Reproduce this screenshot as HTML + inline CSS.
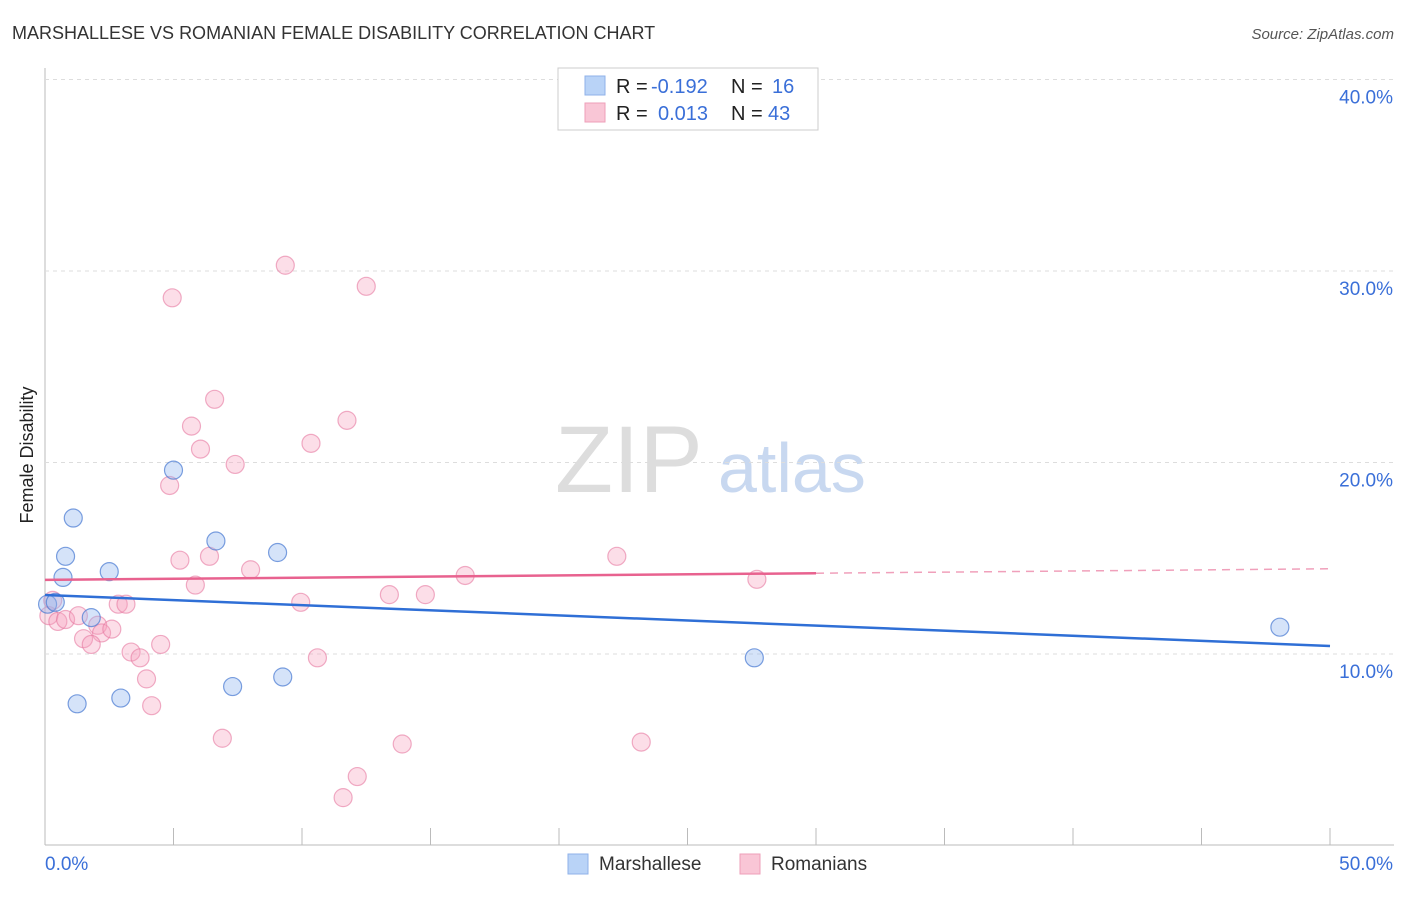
<!DOCTYPE html>
<html><head><meta charset="utf-8"><style>
body{margin:0;background:#fff;font-family:"Liberation Sans",sans-serif}
svg text{font-family:"Liberation Sans",sans-serif}
</style></head><body>
<svg id="c" width="1406" height="892">
<text x="12" y="39" font-size="18" fill="#333">MARSHALLESE VS ROMANIAN FEMALE DISABILITY CORRELATION CHART</text>
<text x="1394" y="39" font-size="15" fill="#555" text-anchor="end" font-style="italic">Source: ZipAtlas.com</text>
<text x="33" y="455" font-size="18" fill="#222" transform="rotate(-90 33 455)" text-anchor="middle">Female Disability</text>
<text x="555" y="492" font-size="95" fill="#ddd" font-family="Liberation Serif">ZIP</text>
<text x="718" y="492" font-size="70" fill="#c8d8f0">atlas</text>
<g id="grid"></g><g id="marks"></g>
<g font-size="20">
<rect x="558" y="68" width="260" height="62" fill="#fff" stroke="#ccc"/>
<rect x="585" y="76" width="20" height="19" fill="#b9d3f7" stroke="#8fb2e8"/>
<rect x="585" y="103" width="20" height="19" fill="#f9c6d6" stroke="#ee9fb8"/>
<text x="616" y="93" fill="#222">R =</text><text x="651" y="93" fill="#3a6fd8">-0.192</text>
<text x="731" y="93" fill="#222">N =</text><text x="772" y="93" fill="#3a6fd8">16</text>
<text x="616" y="120" fill="#222">R =</text><text x="658" y="120" fill="#3a6fd8">0.013</text>
<text x="731" y="120" fill="#222">N =</text><text x="768" y="120" fill="#3a6fd8">43</text>
</g>
<g>
<rect x="568" y="854" width="20" height="20" fill="#b9d3f7" stroke="#8fb2e8"/>
<text x="599" y="870" font-size="19" fill="#333">Marshallese</text>
<rect x="740" y="854" width="20" height="20" fill="#f9c6d6" stroke="#ee9fb8"/>
<text x="771" y="870" font-size="19" fill="#333">Romanians</text>
</g>
</svg>
<script>
const yTicks=[10,20,30,40];
const xTickLabels=["0.0%","50.0%"];
const blueX=[1.1,0.8,0.7,2.5,0.1,0.4,1.8,5.0,6.65,9.05,1.25,2.95,7.3,9.25,27.6,48.05];
const blueY=[17.1,15.1,14.0,14.3,12.6,12.7,11.9,19.6,15.9,15.3,7.4,7.7,8.3,8.8,9.8,11.4];
const pinkX=[9.35,4.95,12.5,6.6,11.75,5.7,10.35,6.05,7.4,4.85,5.25,6.4,8.0,22.25,5.85,16.35,27.7,9.95,13.4,14.8,2.85,3.15,0.3,0.15,0.5,0.8,1.3,2.05,2.2,2.6,1.5,1.8,4.5,3.35,3.7,10.6,3.95,4.15,6.9,13.9,23.2,12.15,11.6];
const pinkY=[30.3,28.6,29.2,23.3,22.2,21.9,21.0,20.7,19.9,18.8,14.9,15.1,14.4,15.1,13.6,14.1,13.9,12.7,13.1,13.1,12.6,12.6,12.8,12.0,11.7,11.8,12.0,11.5,11.1,11.3,10.8,10.5,10.5,10.1,9.8,9.8,8.7,7.3,5.6,5.3,5.4,3.6,2.5];
const blueLine=[13.08,10.42], pinkLine=[13.87,14.45], pinkSolidEnd=30;
const X=v=>45+v*25.7, Y=v=>845.5-v*19.15;
const NS="http://www.w3.org/2000/svg";
const grid=document.getElementById('grid'), marks=document.getElementById('marks');
function mk(tag,at,par){const e=document.createElementNS(NS,tag);for(const k in at)e.setAttribute(k,at[k]);par.appendChild(e);return e;}
let e=mk('line',{x1:45,y1:68,x2:45,y2:845,stroke:'#bbb'},grid);


e=mk('line',{x1:45,y1:845,x2:1394,y2:845,stroke:'#bbb'},grid);


yTicks.forEach(t=>{
 let g=mk('line',{x1:45,x2:1394,y1:Y(t),y2:Y(t),stroke:'#ddd','stroke-dasharray':'4,4'},grid);
 
 
 let tx=mk('text',{x:1393,y:Y(t)+24,'font-size':19,fill:'#3a6fd8','text-anchor':'end'},grid);
 tx.textContent=t.toFixed(1)+'%';
 
 
});
for(let i=0;i<=10;i++){
 let t=mk('line',{x1:X(i*5),x2:X(i*5),y1:828,y2:845,stroke:'#bbb'},grid);
 
 
}
[[0,'start',45],[1,'end',1393]].forEach(([i,a,x])=>{
 let tx=mk('text',{x:x,y:870,'font-size':19,fill:'#3a6fd8','text-anchor':a},grid);
 tx.textContent=xTickLabels[i];
 
 
});
pinkX.forEach((v,i)=>{
 let c=mk('circle',{cx:X(v),cy:Y(pinkY[i]),r:9,fill:'rgba(245,160,190,0.35)',stroke:'rgba(230,120,160,0.6)','stroke-width':1.2},marks);
 
 
});
blueX.forEach((v,i)=>{
 let c=mk('circle',{cx:X(v),cy:Y(blueY[i]),r:9,fill:'rgba(150,185,240,0.4)',stroke:'rgba(70,120,210,0.7)','stroke-width':1.2},marks);
 
 
});
const pAt=x=>pinkLine[0]+(pinkLine[1]-pinkLine[0])*x/50;
e=mk('line',{x1:X(0),y1:Y(pinkLine[0]),x2:X(pinkSolidEnd),y2:Y(pAt(pinkSolidEnd)),stroke:'#e8628f','stroke-width':2.5},marks);


e=mk('line',{x1:X(pinkSolidEnd),y1:Y(pAt(pinkSolidEnd)),x2:X(50),y2:Y(pinkLine[1]),stroke:'#f0a0bb','stroke-width':1.5,'stroke-dasharray':'8,6'},marks);


e=mk('line',{x1:X(0),y1:Y(blueLine[0]),x2:X(50),y2:Y(blueLine[1]),stroke:'#2f6fd6','stroke-width':2.5},marks);


</script>
</body></html>
